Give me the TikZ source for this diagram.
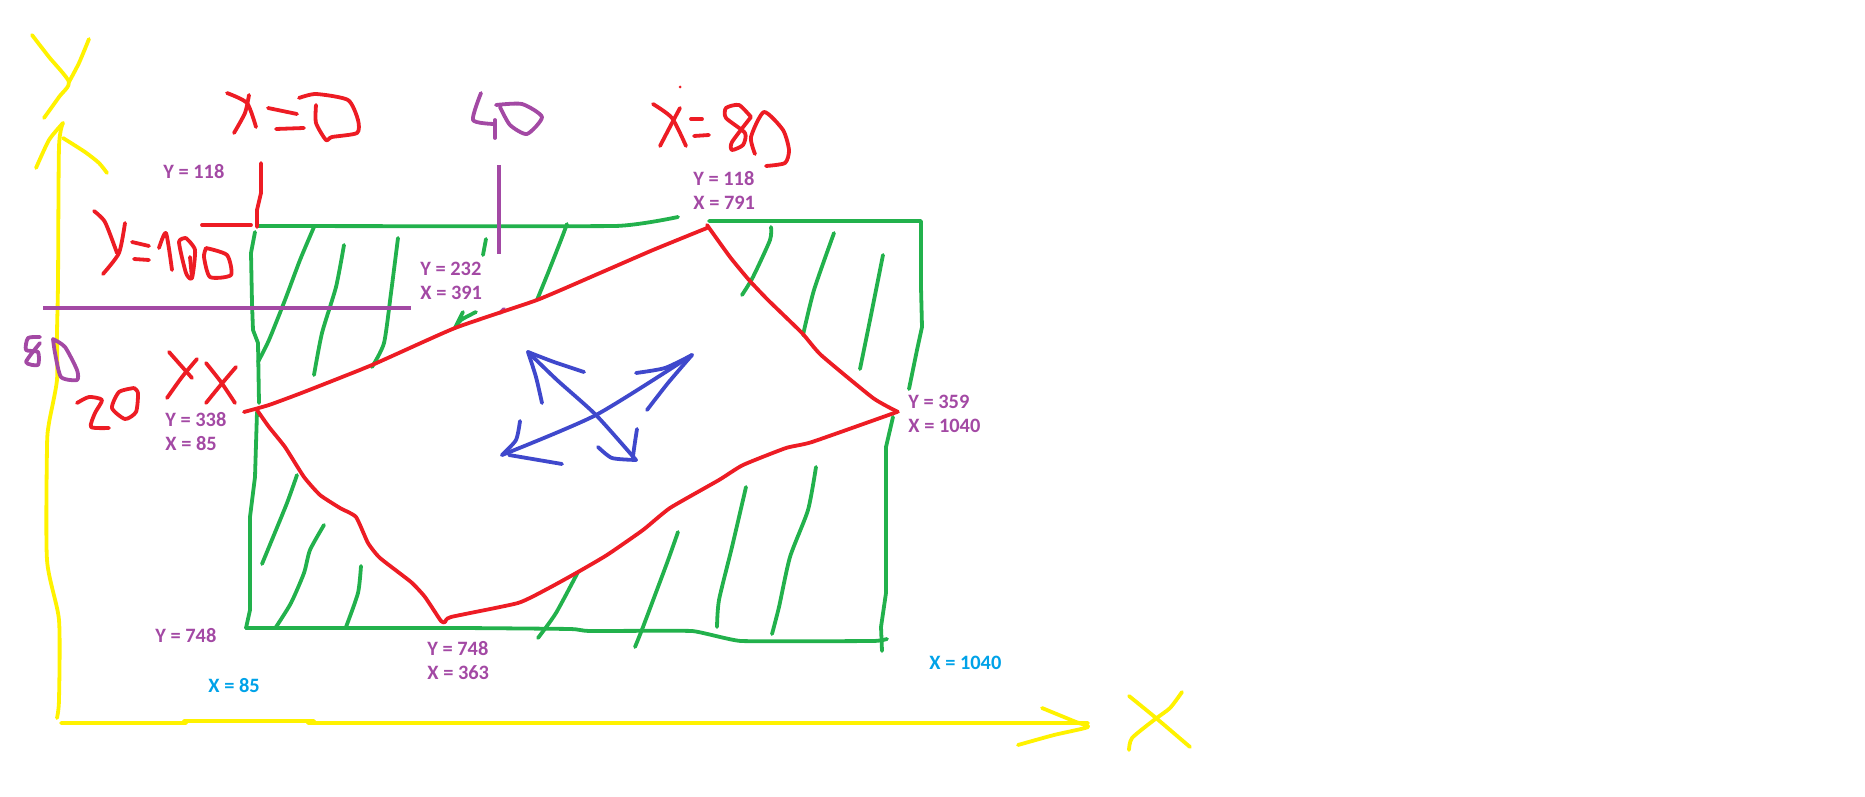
\documentclass[tikz,border=0pt]{standalone}
\usepackage{fontspec}
\setmainfont{Carlito}
\usepackage{tikz}
\definecolor{paintyellow}{HTML}{FFF200}
\definecolor{paintred}{HTML}{ED1C24}
\definecolor{paintgreen}{HTML}{22B14C}
\definecolor{paintpurple}{HTML}{A349A4}
\definecolor{paintblue}{HTML}{3F48CC}
\definecolor{paintcyan}{HTML}{00A2E8}
\tikzset{
    stroke/.style={line width=1.9pt,line cap=round,line join=round},
    yellowline/.style={stroke,paintyellow},
    redline/.style={stroke,paintred},
    greenline/.style={stroke,paintgreen},
    purpleline/.style={stroke,paintpurple},
    blueline/.style={stroke,paintblue},
    valuelabel/.style={anchor=west,inner sep=0pt,align=left,font=\fontsize{10.2}{12}\selectfont\bfseries},
    purplelabel/.style={valuelabel,text=paintpurple},
    cyanlabel/.style={valuelabel,text=paintcyan}
}
\begin{document}
\begin{tikzpicture}[x=0.5pt,y=-0.5pt]
    \useasboundingbox (0,0) rectangle (1865,797);
    % axes
    \draw[yellowline] plot[smooth,tension=0.4] coordinates {(32,35) (49,57) (69,82) (59,97) (44,118)};
    \draw[yellowline] plot[smooth,tension=0.4] coordinates {(89,39) (79,63) (69,82)};
    \draw[yellowline] plot[smooth,tension=0.4] coordinates {(63,123) (59,147) (58,283) (57,333) (57,380) (49,423) (47,447) (47,560) (59,620) (59,700) (57,718)};
    \draw[yellowline] plot[smooth,tension=0.4] coordinates {(36,168) (49,140) (63,123)};
    \draw[yellowline] plot[smooth,tension=0.4] coordinates {(63,138) (85,152) (99,163) (107,173)};
    \draw[yellowline] (61,723) -- (186,723) -- (184,721) -- (314,721) -- (308,723) -- (1088,723);
    \draw[yellowline] plot[smooth,tension=0.4] coordinates {(1042,708) (1076,722) (1088,727) (1054,735) (1018,745)};
    \draw[yellowline] plot[smooth,tension=0.4] coordinates {(1129,696) (1156,718) (1190,747)};
    \draw[yellowline] plot[smooth,tension=0.4] coordinates {(1182,692) (1170,708) (1154,720) (1132,738) (1129,750)};
    % box
    \draw[greenline] plot[smooth,tension=0.2] coordinates {(257,226) (615,226) (678,217)};
    \draw[greenline] (709,221) -- (921,221) -- (921,287) -- (922,327) -- (917,350) -- (909,389);
    \draw[greenline] (893,417) -- (886,447) -- (886,593) -- (881,627) -- (882,651);
    \draw[greenline] plot[smooth,tension=0.2] coordinates {(246,628) (459,628) (571,629) (589,631) (692,631) (741,641) (873,641) (887,639)};
    \draw[greenline] (255,232) -- (251,253) -- (252,303) -- (253,330) -- (258,343) -- (259,403);
    \draw[greenline] (257,412) -- (255,477) -- (250,517) -- (250,610) -- (246,628);
    % hatching
    \foreach \hatch in {
        {(314,227) (300,260) (285,300) (269,340) (258,362)},
        {(344,245) (336,287) (322,333) (314,375)},
        {(398,238) (391,293) (384,343) (372,367)},
        {(486,239) (483,255)},
        {(476,312) (461,320) (455,328) (463,312)},
        {(567,224) (561,240) (548,273) (537,300)},
        {(771,227) (770,240) (753,277) (742,295)},
        {(834,233) (814,290) (803,335)},
        {(883,255) (869,325) (860,369)},
        {(297,475) (287,503) (269,547) (262,564)},
        {(324,525) (310,550) (304,573) (291,603) (276,627)},
        {(361,566) (358,593) (346,627)},
        {(578,572) (556,613) (538,638)},
        {(678,532) (667,563) (643,627) (635,647)},
        {(746,487) (732,547) (719,600) (717,627)},
        {(816,467) (808,510) (790,557) (779,607) (772,634)}}
        \draw[greenline] plot[smooth,tension=0.4] coordinates \hatch;
    % guide lines
    \draw[purpleline,line cap=butt,line width=2.3pt] (499,165) -- (499,254);
    \draw[purpleline,line cap=butt,line width=2.3pt] (43,308) -- (411,308);
    \draw[purpleline] (500,313) -- (504,309);
    % polygon
    \draw[redline] plot[smooth,tension=0.3] coordinates {(244,412) (269,405) (304,392) (372,365) (455,328) (537,300) (600,273) (653,250) (707,228)};
    \draw[redline] plot[smooth,tension=0.3] coordinates {(707,225) (730,257) (749,280) (768,300) (802,333) (821,355) (873,398) (898,412)};
    \draw[redline] plot[smooth,tension=0.3] coordinates {(897,412) (812,442) (786,448) (743,465) (719,480) (670,508) (643,530) (607,555) (578,572) (549,588) (518,603) (451,617) (445,622) (441,621) (425,597) (411,582) (380,558) (368,543) (356,517) (340,508) (320,495) (304,477) (285,447) (269,427) (257,410)};
    \draw[redline] (261,163) -- (261,193) -- (257,210) -- (257,227);
    \draw[redline] (202,225) -- (251,225);
    % red writing
    \foreach \letter in {
        {(227,93) (247,103) (256,127)},
        {(249,95) (245,113) (234,133)},
        {(268,108) (297,114)},
        {(276,129) (304,128)},
        {(299,98) (316,94) (348,100) (358,120) (357,133) (332,137) (326,140) (316,123) (316,105)},
        {(94,211) (105,222) (117,253)},
        {(125,223) (119,253) (103,274)},
        {(132,242) (149,246)},
        {(134,259) (149,260)},
        {(159,248) (166,233) (172,270)},
        {(186,238) (179,242) (186,273) (192,278) (195,250) (186,238)},
        {(190,257) (192,278)},
        {(206,248) (227,255) (231,275) (210,277) (204,257) (206,248)},
        {(169,352) (192,378)},
        {(197,359) (182,377) (167,398)},
        {(206,363) (221,382) (235,403)},
        {(236,367) (219,387) (206,403)},
        {(77,403) (89,397) (102,400) (95,413) (91,427) (109,428)},
        {(134,388) (119,392) (112,408) (125,419) (136,412) (138,393) (134,388)},
        {(653,104) (672,118) (686,146)},
        {(680,108) (672,123) (660,146)},
        {(691,119) (702,119)},
        {(694,136) (709,135)},
        {(751,117) (739,105) (726,108) (726,118) (745,133) (743,145) (732,150) (732,142) (751,117)},
        {(755,154) (751,137) (764,112) (783,130) (789,150) (785,163) (766,166)}}
        \draw[redline] plot[smooth,tension=0.4] coordinates \letter;
    \fill[paintred] (680,87) circle (1.5);
    % purple writing
    \foreach \letter in {
        {(481,93) (473,120) (494,124)},
        {(495,120) (495,138)},
        {(496,105) (522,104) (542,117) (527,134) (510,125) (500,107)},
        {(40,337) (28,338) (26,350) (38,352) (38,365) (26,362) (40,343)},
        {(53,339) (65,347) (77,370) (77,380) (61,377) (55,353) (53,339)}}
        \draw[purpleline] plot[smooth,tension=0.4] coordinates \letter;
    % flow arrows
    \foreach \shaft in {
        {(692,355) (596,415) (502,455)},
        {(528,352) (557,380) (596,415) (636,460)},
        {(636,373) (665,368) (692,355)},
        {(647,410) (668,383) (692,355)},
        {(520,421) (516,440) (502,455)},
        {(509,455) (562,464)},
        {(584,372) (554,362) (528,352)},
        {(542,403) (536,377) (528,352)},
        {(637,429) (633,457) (636,460)},
        {(598,447) (612,458) (636,460)}}
        \draw[blueline] plot[smooth,tension=0.4] coordinates \shaft;
    % values
    \node[purplelabel] at (163,172) (topleft) {Y = 118};
    \node[purplelabel] at (420,281) (midtop) {Y = 232\\X = 391};
    \node[purplelabel] at (693,190) (toppeak) {Y = 118\\X = 791};
    \node[purplelabel] at (908,414) (rightpeak) {Y = 359\\X = 1040};
    \node[purplelabel] at (165,432) (leftpeak) {Y = 338\\X = 85};
    \node[purplelabel] at (155,636) (bottomleft) {Y = 748};
    \node[purplelabel] at (427,661) (bottompeak) {Y = 748\\X = 363};
    \node[cyanlabel] at (208,686) (leftedge) {X = 85};
    \node[cyanlabel] at (929,663) (rightedge) {X = 1040};
\end{tikzpicture}
\end{document}
